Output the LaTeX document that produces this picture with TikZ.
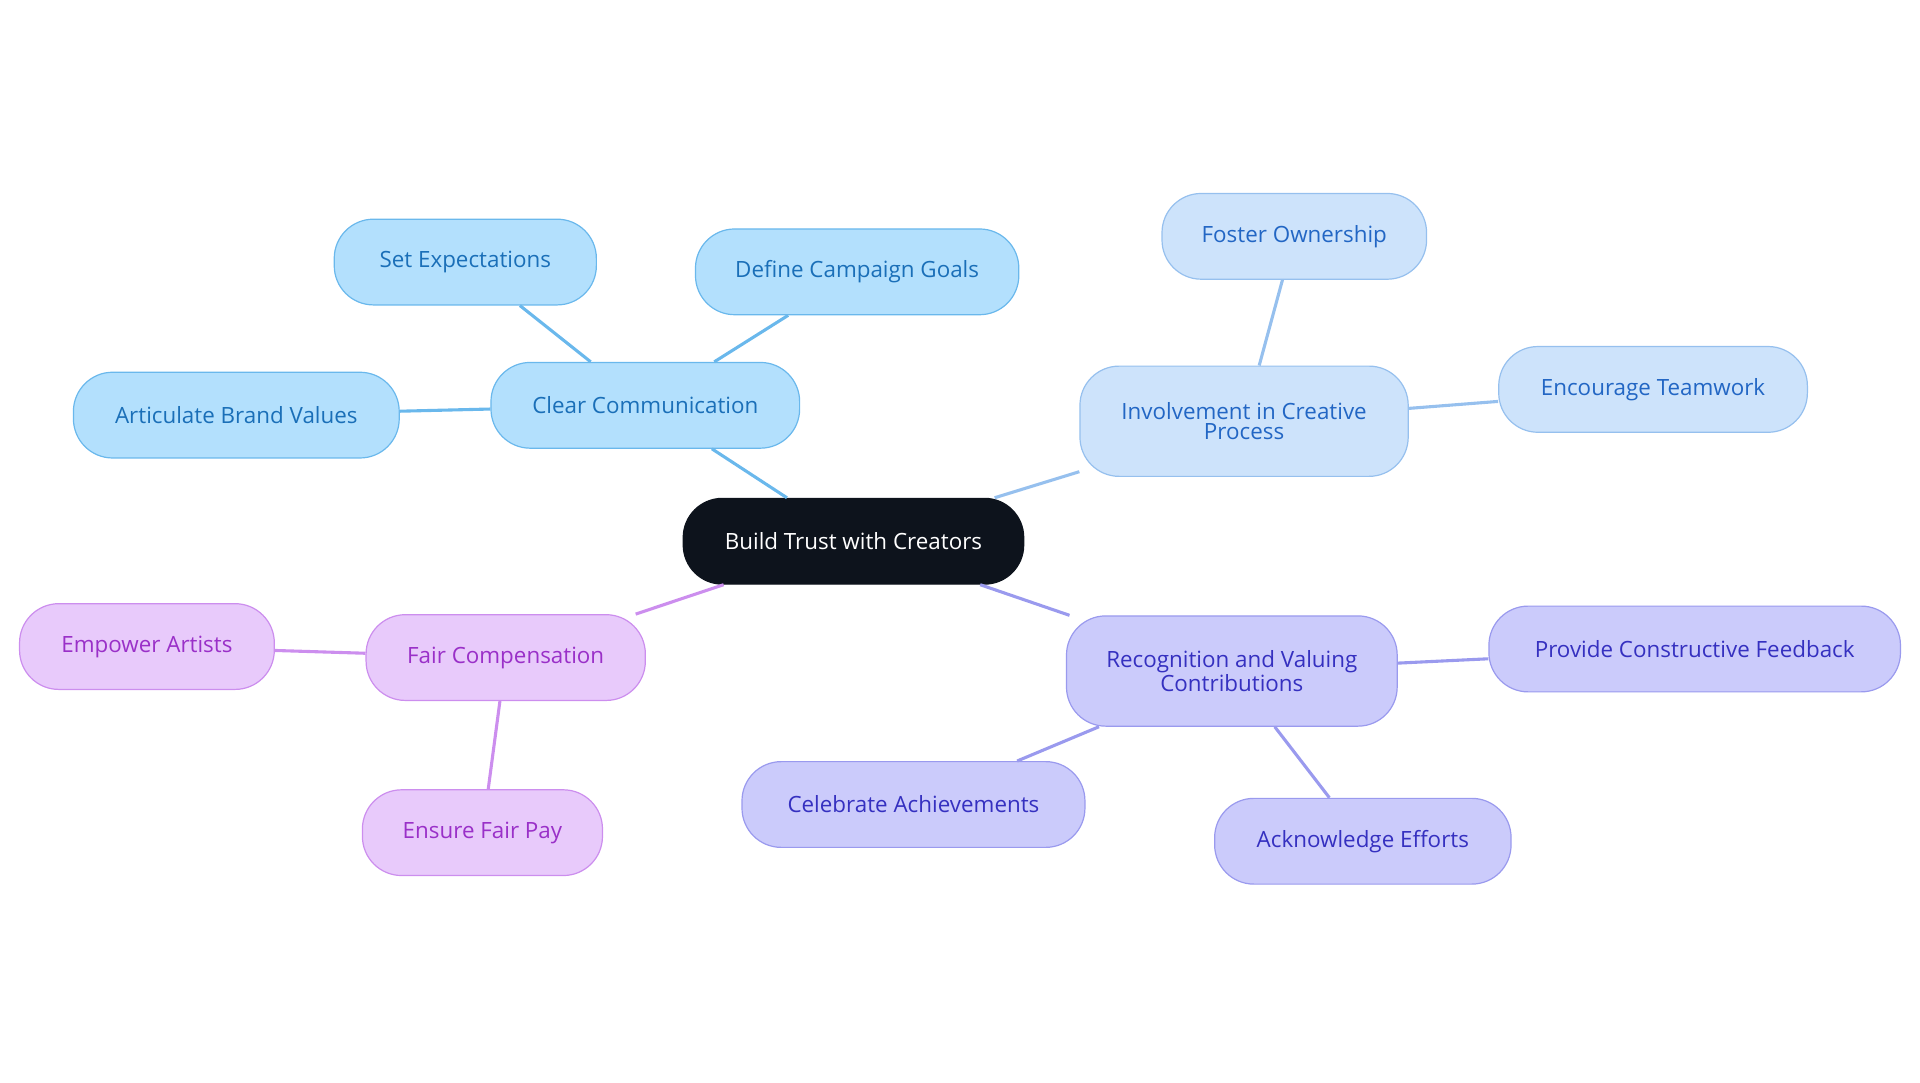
\documentclass[tikz,border=0pt]{standalone}
\usepackage{fontspec}
\setmainfont{Open Sans}
\usetikzlibrary{positioning}
\definecolor{rootfill}{HTML}{0D131C}
\definecolor{cfill}{HTML}{B3E0FD}\definecolor{cdraw}{HTML}{6AB8EC}\definecolor{ctext}{HTML}{1A6FB8}
\definecolor{ifill}{HTML}{CDE3FB}\definecolor{idraw}{HTML}{96C0EE}\definecolor{itext}{HTML}{2266C4}
\definecolor{rfill}{HTML}{CBCBFB}\definecolor{rdraw}{HTML}{9A9AEE}\definecolor{rtext}{HTML}{3530C0}
\definecolor{ffill}{HTML}{E8CAFB}\definecolor{fdraw}{HTML}{CC8EEE}\definecolor{ftext}{HTML}{9A30C8}
\tikzset{
box/.style={rounded corners=0.8cm, line width=0.7pt, align=center, minimum height=1.75cm,
  inner sep=0pt, font=\fontsize{13}{12}\selectfont},
comm/.style={box, fill=cfill, draw=cdraw, text=ctext},
inv/.style={box, fill=ifill, draw=idraw, text=itext},
rec/.style={box, fill=rfill, draw=rdraw, text=rtext},
fair/.style={box, fill=ffill, draw=fdraw, text=ftext},
}
\begin{document}
\begin{tikzpicture}[x=0.025cm, y=-0.025cm]
    \useasboundingbox (0,0) rectangle (1568,884);
    \node[box, fill=rootfill, draw=rootfill, text=white, minimum width=6.95cm] (root) at (697,442) {Build Trust with Creators};

    \node[comm, minimum width=6.3cm] (cc) at (527,331) {Clear Communication};
    \node[comm, minimum width=5.35cm] (se) at (380,214) {Set Expectations};
    \node[comm, minimum width=6.6cm] (dg) at (700,222) {Define Campaign Goals};
    \node[comm, minimum width=6.65cm] (ab) at (193,339) {Articulate Brand Values};

    \node[inv, minimum width=6.7cm, minimum height=2.25cm] (inv) at (1016,344) {Involvement in Creative\\Process};
    \node[inv, minimum width=5.4cm] (fo) at (1057,193) {Foster Ownership};
    \node[inv, minimum width=6.3cm] (et) at (1350,318) {Encourage Teamwork};

    \node[rec, minimum width=6.75cm, minimum height=2.25cm] (rec) at (1006,548) {Recognition and Valuing\\Contributions};
    \node[rec, minimum width=8.4cm] (pf) at (1384,530) {Provide Constructive Feedback};
    \node[rec, minimum width=7cm] (ca) at (746,657) {Celebrate Achievements};
    \node[rec, minimum width=6.05cm] (ae) at (1113,687) {Acknowledge Efforts};

    \node[fair, minimum width=5.7cm] (fc) at (413,537) {Fair Compensation};
    \node[fair, minimum width=5.2cm] (ea) at (120,528) {Empower Artists};
    \node[fair, minimum width=4.9cm] (ep) at (394,680) {Ensure Fair Pay};

    \draw[cdraw, line width=1.8pt] (root) -- (cc);
    \draw[cdraw, line width=1.8pt] (cc) -- (se);
    \draw[cdraw, line width=1.8pt] (cc) -- (dg);
    \draw[cdraw, line width=1.8pt] (cc) -- (ab);
    \draw[idraw, line width=1.8pt] (root) -- (inv);
    \draw[idraw, line width=1.8pt] (inv) -- (fo);
    \draw[idraw, line width=1.8pt] (inv) -- (et);
    \draw[rdraw, line width=1.8pt] (root) -- (rec);
    \draw[rdraw, line width=1.8pt] (rec) -- (pf);
    \draw[rdraw, line width=1.8pt] (rec) -- (ca);
    \draw[rdraw, line width=1.8pt] (rec) -- (ae);
    \draw[fdraw, line width=1.8pt] (root) -- (fc);
    \draw[fdraw, line width=1.8pt] (fc) -- (ea);
    \draw[fdraw, line width=1.8pt] (fc) -- (ep);
\end{tikzpicture}
\end{document}
